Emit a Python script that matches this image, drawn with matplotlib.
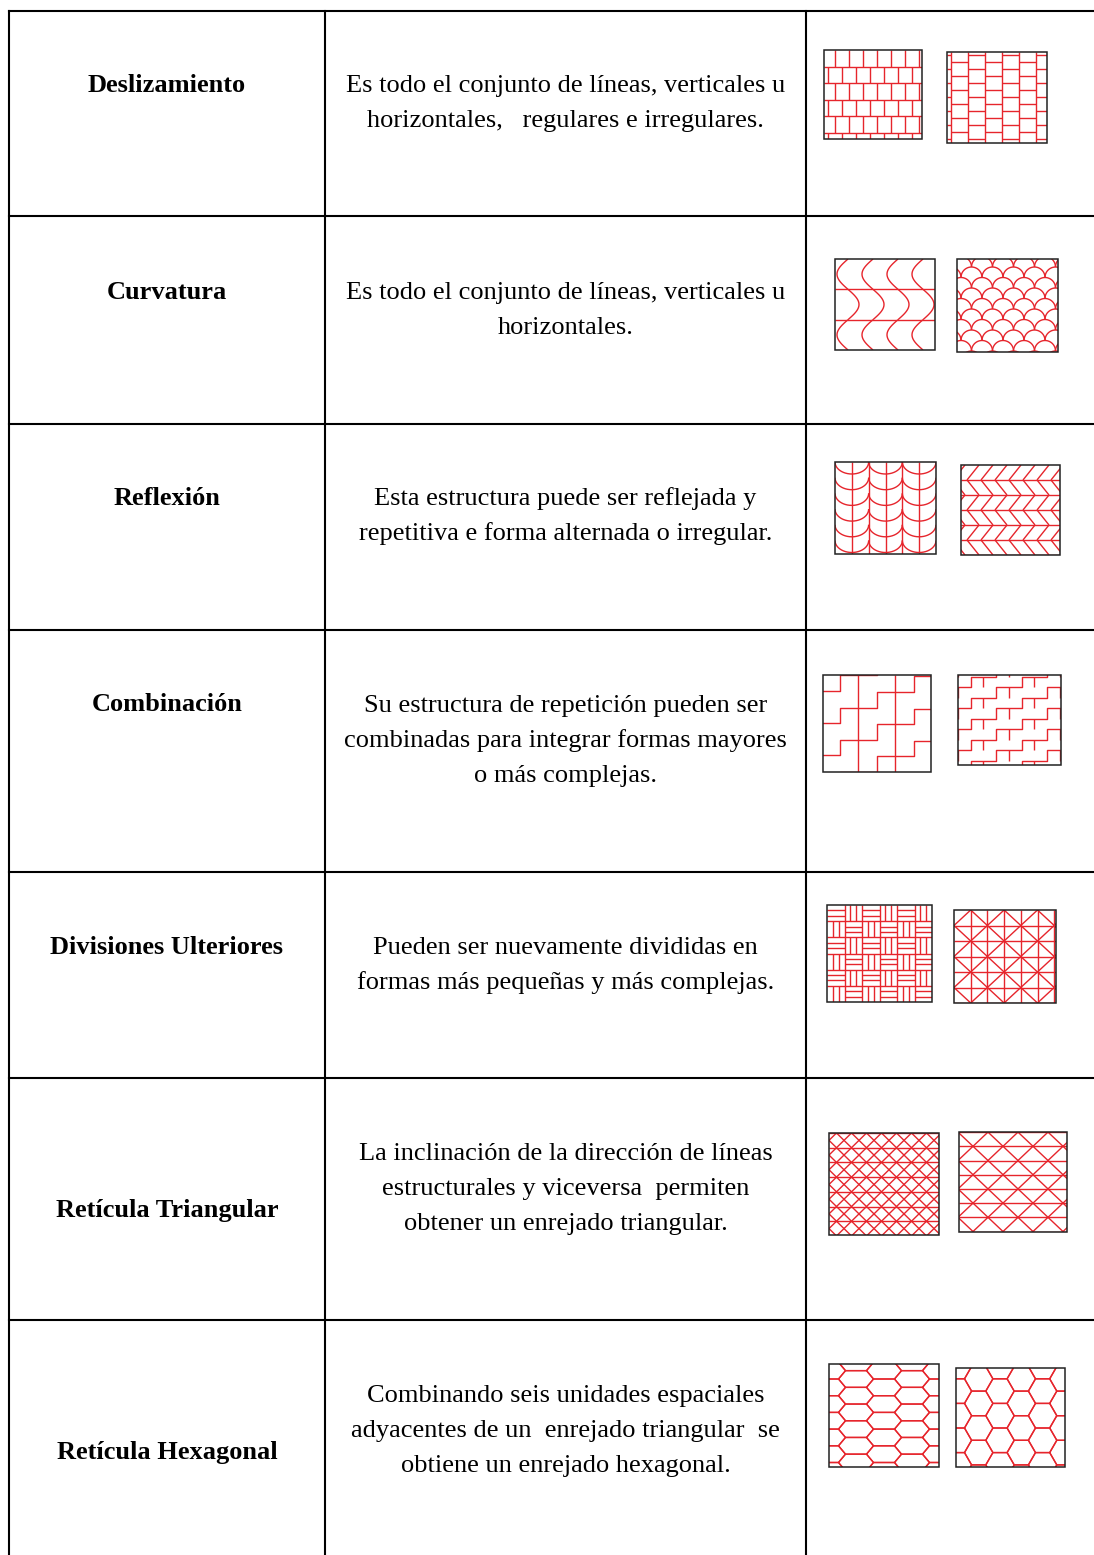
import numpy as np
import matplotlib
matplotlib.use("Agg")
import matplotlib.pyplot as plt
from matplotlib.collections import LineCollection
from matplotlib.patches import Rectangle

# contenido de la tabla
etiquetas = ["Deslizamiento", "Curvatura", "Reflexión", "Combinación",
             "Divisiones Ulteriores", "Retícula Triangular", "Retícula Hexagonal"]
descripciones = [
    ["Es todo el conjunto de líneas, verticales u", "horizontales,   regulares e irregulares."],
    ["Es todo el conjunto de líneas, verticales u", "horizontales."],
    ["Esta estructura puede ser reflejada y", "repetitiva e forma alternada o irregular."],
    ["Su estructura de repetición pueden ser", "combinadas para integrar formas mayores",
     "o más complejas."],
    ["Pueden ser nuevamente divididas en", "formas más pequeñas y más complejas."],
    ["La inclinación de la dirección de líneas", "estructurales y viceversa  permiten",
     "obtener un enrejado triangular."],
    ["Combinando seis unidades espaciales", "adyacentes de un  enrejado triangular  se",
     "obtiene un enrejado hexagonal."],
]
patrones = [("ladrillo_h", "ladrillo_v"), ("ondas", "escamas"), ("arcos", "espiga"),
            ("escalera", "escalera_fina"), ("cesteria", "diamantes"),
            ("triangular", "triangular_amplia"), ("hex_alargado", "hex_regular")]

# disposición (pixeles)
W_PX, H_PX = 1094, 1555
bordes_filas = [11, 216, 424, 630, 872, 1078, 1320]
col_x = [9, 325, 806]
base_etiqueta = [92, 299, 505, 711, 954, 1217, 1459]
base_texto = [92, 299, 505, 712, 954, 1160, 1402]
interlinea = 35
cajas = [
    [(824, 50, 922, 139), (947, 52, 1047, 143)],
    [(835, 259, 935, 350), (957, 259, 1058, 352)],
    [(835, 462, 936, 554), (961, 465, 1060, 555)],
    [(823, 675, 931, 772), (958, 675, 1061, 765)],
    [(827, 905, 932, 1002), (954, 910, 1056, 1003)],
    [(829, 1133, 939, 1235), (959, 1132, 1067, 1232)],
    [(829, 1364, 939, 1467), (956, 1368, 1065, 1467)],
]
ROJO = "#e6252c"


def ladrillo_h(w, h):
    L, rh, bw = [], 16.5, 14.0
    n = int(h // rh) + 1
    for k in range(1, n + 1):
        L.append([(0, k * rh), (w, k * rh)])
    for k in range(n + 1):
        x = 11 if k % 2 == 0 else 4
        while x < w:
            L.append([(x, k * rh), (x, (k + 1) * rh)])
            x += bw
    return L


def ladrillo_v(w, h):
    cols = [4 + 17 * j for j in range(6)]
    L = [[(c, 0), (c, h)] for c in cols]
    ed = [0] + cols + [w]
    for j in range(len(ed) - 1):
        y = 3 if j % 2 == 0 else 10
        while y < h:
            L.append([(ed[j], y), (ed[j + 1], y)])
            y += 14
    return L


def ondas(w, h):
    L = [[(0, h / 3), (w, h / 3)], [(0, 2 * h / 3), (w, 2 * h / 3)]]
    t = np.linspace(0, 1, 30)
    for j in range(4):
        cx = 13 + 25 * j
        for k in range(3):
            sg = -1 if k % 2 == 0 else 1
            L.append(np.column_stack([cx + sg * 11 * np.sin(np.pi * t), (k + t) * h / 3]))
    return L


def escamas(w, h):
    r, L = 10.5, []
    t = np.linspace(0, np.pi, 25)
    for j in range(int(h / r) + 2):
        cy = r * j + 8
        off = 0 if j % 2 == 0 else r
        for i in range(-1, int(w / (2 * r)) + 2):
            cx = 2 * r * i + off + 4
            L.append(np.column_stack([cx + r * np.cos(t), cy - r * np.sin(t)]))
    return L


def arcos(w, h):
    s = w / 6
    L = [[(s * k, 0), (s * k, h)] for k in range(1, 6)]
    t = np.linspace(0, np.pi, 25)
    for i in range(6):
        for m in range(3):
            xc = 2 * s * m + s
            L.append(np.column_stack([xc + s * np.cos(t), 15.7 * i + 12 * np.sin(t)]))
    return L


def espiga(w, h):
    dy, dx, sp = 15, 12, 14
    L = [[(0, dy * k), (w, dy * k)] for k in range(1, int(h / dy) + 1)]
    for k in range(int(h / dy) + 1):
        for m in range(-2, int(w / sp) + 3):
            xt = 4 + sp * m - dx * (k % 2)
            xb = 4 + sp * m - dx * ((k + 1) % 2)
            L.append([(xt, dy * k), (xb, dy * (k + 1))])
    return L


def _escaleras(w, h, x0, paso, sube, sep, c0):
    L = []
    nj = int(w / paso) + 3
    for k in range(-6, int(h / sep) + 6):
        c = c0 + sep * k
        pts = []
        for j in range(-2, nj):
            xj = x0 + paso * j
            pts += [(xj, c - sube * j), (xj, c - sube * (j + 1))]
        L.append(pts)
    return L


def escalera(w, h):
    x0, paso = 0.155 * w, 0.342 * w
    L = _escaleras(w, h, x0, paso, 0.161 * h, 0.332 * h, 0.497 * h)
    for j in range(2):
        xm = x0 + paso * (j + 0.5)
        L.append([(xm, 0), (xm, h)])
    return L


def escalera_fina(w, h):
    x0, paso, sube, sep, c0 = 12.7, 25.4, 10.5, 21.0, 12.0
    L = _escaleras(w, h, x0, paso, sube, sep, c0)
    for k in range(-6, int(h / sep) + 6):
        c = c0 + sep * k
        for j in range(-1, int(w / paso) + 2):
            xm = x0 + paso * (j + 0.5)
            yt = c - sube * (j + 1)
            L.append([(xm, yt), (xm, yt + sep * 0.5)])
    return L


def cesteria(w, h):
    cw, ch = w / 6, h / 6
    L = [[(cw * k, 0), (cw * k, h)] for k in range(1, 6)]
    L += [[(0, ch * k), (w, ch * k)] for k in range(1, 6)]
    for i in range(6):
        for j in range(6):
            x, y = cw * i, ch * j
            for f in (1 / 3, 2 / 3):
                if (i + j) % 2 == 0:
                    L.append([(x, y + ch * f), (x + cw, y + ch * f)])
                else:
                    L.append([(x + cw * f, y), (x + cw * f, y + ch)])
    return L


def diamantes(w, h):
    cw, ch = 16.7, 15.5
    L = [[(cw * k, 0), (cw * k, h)] for k in range(1, 7)]
    L += [[(0, ch * k), (w, ch * k)] for k in range(1, 7)]
    for c in range(-9, 16, 2):
        L.append([((c + 1) * cw, -ch), ((c - 8) * cw, 8 * ch)])
        L.append([((c - 1) * cw, -ch), ((c + 8) * cw, 8 * ch)])
    return L


def _triangular(w, h, a, s, x0, y0, hsep):
    L = []
    k0 = int(np.floor(-y0 / hsep)) - 1
    for k in range(k0, int((h - y0) / hsep) + 2):
        L.append([(0, y0 + hsep * k), (w, y0 + hsep * k)])
    y1, y2 = -10, h + 10
    for k in range(-20, 20):
        c = x0 + a * k
        L.append([(c + s * (y1 - y0), y1), (c + s * (y2 - y0), y2)])
        L.append([(c - s * (y1 - y0), y1), (c - s * (y2 - y0), y2)])
    return L


def triangular(w, h):
    return _triangular(w, h, 15, 1.02, 7.5, 0, 14.7)


def triangular_amplia(w, h):
    return _triangular(w, h, 30, 1.056, 14, 14.3, 14.2)


def _hexagonos(w, h, W, E, Hh, ox, oy):
    L = []
    for j in range(-8, int(h / (Hh / 2)) + 8):
        for i in range(-3, int(w / (W + E)) + 3):
            cx = ox + (W + E) * i + (j % 2) * (W + E) / 2
            cy = oy + j * Hh / 2
            L.append([(cx - W / 2, cy), (cx - E / 2, cy - Hh / 2), (cx + E / 2, cy - Hh / 2),
                      (cx + W / 2, cy), (cx + E / 2, cy + Hh / 2), (cx - E / 2, cy + Hh / 2),
                      (cx - W / 2, cy)])
    return L


def hex_alargado(w, h):
    return _hexagonos(w, h, 35, 21, 16.7, 27, 31.7)


def hex_regular(w, h):
    s = 14.2
    return _hexagonos(w, h, 2 * s, s, np.sqrt(3) * s, 44, 47.7)


FUNCIONES = {f.__name__: f for f in [ladrillo_h, ladrillo_v, ondas, escamas, arcos, espiga,
                                      escalera, escalera_fina, cesteria, diamantes,
                                      triangular, triangular_amplia, hex_alargado, hex_regular]}

fig = plt.figure(figsize=(W_PX / 100, H_PX / 100), dpi=100)
ax = fig.add_axes([0, 0, 1, 1])
ax.set_xlim(0, W_PX)
ax.set_ylim(H_PX, 0)
ax.axis("off")

# rejilla de la tabla
lw_tabla = 1.5
for y in bordes_filas:
    ax.plot([col_x[0], W_PX], [y, y], color="black", lw=lw_tabla, solid_capstyle="projecting")
for x in col_x:
    ax.plot([x, x], [bordes_filas[0], H_PX], color="black", lw=lw_tabla, solid_capstyle="projecting")

serif = ["Liberation Serif", "DejaVu Serif"]
x_et = (col_x[0] + col_x[1]) / 2
x_tx = (col_x[1] + col_x[2]) / 2
for i, et in enumerate(etiquetas):
    ax.text(x_et, base_etiqueta[i], et, ha="center", va="baseline", fontsize=19,
            fontweight="bold", family=serif)
    for n, linea in enumerate(descripciones[i]):
        ax.text(x_tx, base_texto[i] + n * interlinea, linea, ha="center", va="baseline",
                fontsize=19, family=serif)

# miniaturas de los patrones
for i, par in enumerate(patrones):
    for nombre, (x0, y0, x1, y1) in zip(par, cajas[i]):
        w, h = x1 - x0, y1 - y0
        marco = Rectangle((x0, y0), w, h, fill=False, edgecolor="#222222", lw=1.1, zorder=4)
        ax.add_patch(marco)
        lineas = [np.asarray(p, dtype=float) + [x0, y0] for p in FUNCIONES[nombre](w, h)]
        lc = LineCollection(lineas, colors=ROJO, linewidths=1.0, zorder=3)
        ax.add_collection(lc)
        lc.set_clip_path(marco)

fig.savefig("out.png", dpi=100)
